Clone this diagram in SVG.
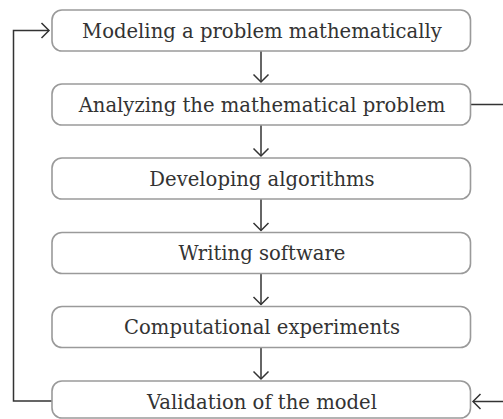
<svg xmlns="http://www.w3.org/2000/svg" width="503" height="419" viewBox="0 0 503 419">
<style>
.box{fill:#fff;stroke:#9a9a9a;stroke-width:1.6}
.lbl{font-family:"DejaVu Serif",serif;font-size:19.6px;fill:#333;text-anchor:middle}
.con{fill:none;stroke:#333;stroke-width:1.5}
</style>
<defs>
<marker id="ah" viewBox="-9 -9 11 18" markerWidth="11" markerHeight="18" refX="0" refY="0" orient="auto" markerUnits="userSpaceOnUse">
<path d="M-7.5,-7.5 L0,0 L-7.5,7.5" fill="none" stroke="#333" stroke-width="1.5"/>
</marker>
</defs>
<rect width="503" height="419" fill="#fff"/>
<g id="connectors">
<line class="con" x1="261" y1="51" x2="261" y2="82" marker-end="url(#ah)"/>
<line class="con" x1="261" y1="125" x2="261" y2="156" marker-end="url(#ah)"/>
<line class="con" x1="261" y1="199" x2="261" y2="230.5" marker-end="url(#ah)"/>
<line class="con" x1="261" y1="273.5" x2="261" y2="304.5" marker-end="url(#ah)"/>
<line class="con" x1="261" y1="347.5" x2="261" y2="379" marker-end="url(#ah)"/>
<polyline class="con" points="52,401 13.5,401 13.5,30.5 49,30.5" marker-end="url(#ah)"/>
<line class="con" x1="470.5" y1="104.5" x2="503" y2="104.5"/>
<line class="con" x1="503" y1="401.5" x2="473" y2="401.5" marker-end="url(#ah)"/>
</g>
<g id="n1"><rect class="box" x="52" y="10" width="418.5" height="41" rx="10"/><text class="lbl" x="262" y="37.5">Modeling a problem mathematically</text></g>
<g id="n2"><rect class="box" x="52" y="84" width="418.5" height="41" rx="10"/><text class="lbl" x="262" y="111.5">Analyzing the mathematical problem</text></g>
<g id="n3"><rect class="box" x="52" y="158" width="418.5" height="41" rx="10"/><text class="lbl" x="262" y="185.5">Developing algorithms</text></g>
<g id="n4"><rect class="box" x="52" y="232.5" width="418.5" height="41" rx="10"/><text class="lbl" x="262" y="260">Writing software</text></g>
<g id="n5"><rect class="box" x="52" y="306.5" width="418.5" height="41" rx="10"/><text class="lbl" x="262" y="334">Computational experiments</text></g>
<g id="n6"><rect class="box" x="52" y="381" width="418.5" height="37" rx="10"/><text class="lbl" x="262" y="408.5">Validation of the model</text></g>
</svg>
